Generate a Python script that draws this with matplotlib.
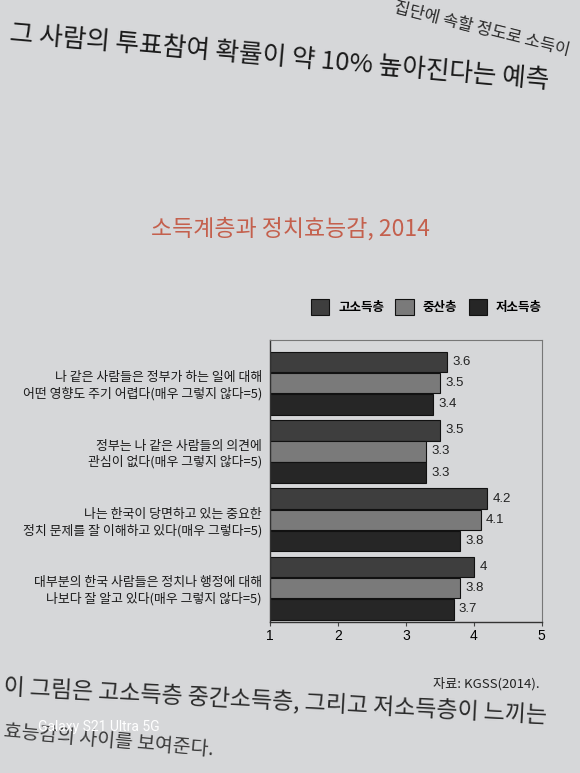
import matplotlib
matplotlib.use("Agg")
import matplotlib.pyplot as plt
import numpy as np

plt.rcParams['font.family'] = ['Noto Sans CJK KR', 'DejaVu Sans']

title = "소득계층과 정치효능감, 2014"
series_names = ["고소득층", "중산층", "저소득층"]
categories = [
    "나 같은 사람들은 정부가 하는 일에 대해\n어떤 영향도 주기 어렵다(매우 그렇지 않다=5)",
    "정부는 나 같은 사람들의 의견에\n관심이 없다(매우 그렇지 않다=5)",
    "나는 한국이 당면하고 있는 중요한\n정치 문제를 잘 이해하고 있다(매우 그렇다=5)",
    "대부분의 한국 사람들은 정치나 행정에 대해\n나보다 잘 알고 있다(매우 그렇지 않다=5)",
]
high = [3.6, 3.5, 4.2, 4.0]
mid = [3.5, 3.3, 4.1, 3.8]
low = [3.4, 3.3, 3.8, 3.7]
value_labels = [["3.6", "3.5", "3.4"], ["3.5", "3.3", "3.3"],
                ["4.2", "4.1", "3.8"], ["4", "3.8", "3.7"]]
xticks = [1, 2, 3, 4, 5]
source = "자료: KGSS(2014)."

bg = "#d6d7d9"
colors = ["#3e3e3e", "#7a7a7a", "#262626"]

fig = plt.figure(figsize=(5.8, 7.73), dpi=100, facecolor=bg)

# surrounding book text
fig.text(0.985, 0.962, "집단에 속할 정도로 소득이",
         fontsize=12, color="#2a2a2a", ha="right", va="center", rotation=-14)
fig.text(0.015, 0.925, "그 사람의 투표참여 확률이 약 10% 높아진다는 예측",
         fontsize=18.5, color="#1a1a1a", ha="left", va="center", rotation=-5)
fig.text(0.005, 0.093, "이 그림은 고소득층 중간소득층, 그리고 저소득층이 느끼는",
         fontsize=16.5, color="#2a2a2a", ha="left", va="center", rotation=-3)
fig.text(0.005, 0.042, "효능감의 사이를 보여준다.",
         fontsize=14, color="#3a3a3a", ha="left", va="center", rotation=-5)
fig.text(0.066, 0.059, "Galaxy S21 Ultra 5G", fontsize=10, color="white",
         ha="left", va="center", family=["Roboto", "DejaVu Sans"])

fig.text(0.50, 0.704, title, fontsize=16.5, color="#c4604d", ha="center", va="center")

ax = fig.add_axes([0.466, 0.195, 0.468, 0.365])
ax.set_facecolor(bg)

n = len(categories)
y = np.arange(n)
h = 0.30
offs = [-0.31, 0.0, 0.31]
for k, vals in enumerate([high, mid, low]):
    ax.barh(y + offs[k], np.array(vals) - 1, left=1, height=h, color=colors[k],
            edgecolor="#111111", linewidth=0.8, label=series_names[k])
    for i, v in enumerate(vals):
        ax.text(v + 0.08, y[i] + offs[k], value_labels[i][k], va="center",
                ha="left", fontsize=9.5, color="#222222",
                family=["Liberation Sans", "DejaVu Sans"])

ax.set_xlim(1, 5)
ax.set_ylim(3.5, -0.63)
ax.set_xticks(xticks)
ax.set_xticklabels([str(t) for t in xticks], fontsize=10,
                   family=["Liberation Sans", "DejaVu Sans"])
ax.set_yticks(y)
ax.set_yticklabels(categories, fontsize=9.3, linespacing=1.25, color="#1a1a1a")
ax.tick_params(axis="y", length=0, pad=6)
ax.tick_params(axis="x", length=3, color="#444444", pad=2)
for s in ["left", "bottom"]:
    ax.spines[s].set_color("#333333")
    ax.spines[s].set_linewidth(1.0)
for s in ["top", "right"]:
    ax.spines[s].set_color("#777777")
    ax.spines[s].set_linewidth(0.8)

leg = fig.legend(loc="center", bbox_to_anchor=(0.735, 0.603), ncol=3, frameon=False,
                 prop={"size": 9, "weight": "bold"}, handlelength=1.5, handleheight=1.6,
                 columnspacing=0.9, handletextpad=0.7)

fig.text(0.93, 0.116, source, fontsize=9.5, color="#222222", ha="right", va="center")

fig.savefig("out.png", dpi=100, facecolor=bg)
